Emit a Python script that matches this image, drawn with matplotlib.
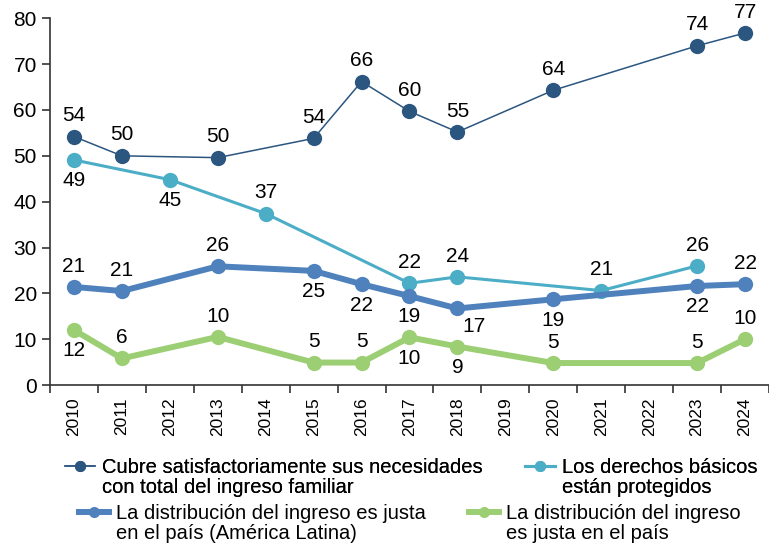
import numpy as np
import matplotlib
matplotlib.use("Agg")
import matplotlib.pyplot as plt
from matplotlib.lines import Line2D

plt.rcParams['font.family'] = ['Liberation Sans', 'DejaVu Sans']

years = ['2010', '2011', '2012', '2013', '2014', '2015', '2016', '2017',
         '2018', '2019', '2020', '2021', '2022', '2023', '2024']

# Cubre satisfactoriamente sus necesidades
needs_years = ['2010', '2011', '2013', '2015', '2016', '2017', '2018', '2020', '2023', '2024']
needs_vals = [54.2, 50.0, 49.6, 53.8, 66.2, 59.7, 55.2, 64.3, 74.0, 76.8]
needs_lbls = [54, 50, 50, 54, 66, 60, 55, 64, 74, 77]
needs_pos = ['a', 'a', 'a', 'a', 'a', 'a', 'a', 'a', 'a', 'a']

# Los derechos basicos estan protegidos
rights_years = ['2010', '2012', '2014', '2017', '2018', '2021', '2023']
rights_vals = [49.1, 44.8, 37.4, 22.2, 23.6, 20.6, 26.0]
rights_lbls = [49, 45, 37, 22, 24, 21, 26]
rights_pos = ['b', 'b', 'a', 'a', 'a', 'a', 'a']

# La distribucion del ingreso es justa (America Latina)
latam_years = ['2010', '2011', '2013', '2015', '2016', '2017', '2018', '2020', '2023', '2024']
latam_vals = [21.4, 20.5, 25.9, 24.9, 22.0, 19.4, 16.7, 18.7, 21.6, 22.0]
latam_lbls = [21, 21, 26, 25, 22, 19, 17, 19, 22, 22]
latam_pos = ['a', 'a', 'a', 'b', 'b', 'b', 'br', 'b', 'b', 'a']

# La distribucion del ingreso es justa en el pais
country_years = ['2010', '2011', '2013', '2015', '2016', '2017', '2018', '2020', '2023', '2024']
country_vals = [12.0, 5.8, 10.5, 4.9, 4.9, 10.4, 8.4, 4.8, 4.8, 10.0]
country_lbls = [12, 6, 10, 5, 5, 10, 9, 5, 5, 10]
country_pos = ['b', 'a', 'a', 'a', 'a', 'b', 'b', 'a', 'a', 'a']

series = [
    (needs_years, needs_vals, needs_lbls, needs_pos, '#2B5680', 1.1,
     'Cubre satisfactoriamente sus necesidades\ncon total del ingreso familiar'),
    (rights_years, rights_vals, rights_lbls, rights_pos, '#4BADC6', 2.2,
     'Los derechos básicos\nestán protegidos'),
    (latam_years, latam_vals, latam_lbls, latam_pos, '#4F81BD', 4.3,
     'La distribución del ingreso es justa\nen el país (América Latina)'),
    (country_years, country_vals, country_lbls, country_pos, '#9CCF74', 4.3,
     'La distribución del ingreso\nes justa en el país'),
]

fig = plt.figure(figsize=(7.69, 5.48), dpi=100)
ax = fig.add_axes([0.065, 0.2974, 0.935, 0.6692])

offsets = {'a': (0, 15), 'b': (0, -15), 'br': (12, -13)}
handles = []
for yrs, vals, lbls, pos, color, lw, name in series:
    xs = [years.index(y) for y in yrs]
    ax.plot(xs, vals, color=color, lw=lw, marker='o', markersize=11,
            markeredgewidth=0, solid_capstyle='round', zorder=3)
    for x, v, l, p in zip(xs, vals, lbls, pos):
        ax.annotate(str(l), (x, v), xytext=offsets[p], textcoords='offset points',
                    ha='center', va='center', fontsize=15, color='black', zorder=5)
    handles.append(Line2D([], [], color=color, lw=lw, marker='o', markersize=8,
                          markeredgewidth=0, solid_capstyle='projecting', label=name))

ax.set_xlim(-0.5, 14.39)
ax.set_ylim(0, 80)
ax.set_yticks(np.arange(0, 81, 10))
ax.set_xticks(range(len(years)))
ax.set_xticklabels(years, rotation=90)
ax.set_xticks(np.arange(-0.5, 14.6, 1), minor=True)
ax.tick_params(axis='x', which='major', length=0, labelsize=12.5, pad=9)
ax.tick_params(axis='x', which='minor', length=6, width=1.2, color='#333333')
ax.tick_params(axis='y', length=6, width=1.2, labelsize=15, color='#333333')
for s in ['top', 'right']:
    ax.spines[s].set_visible(False)
for s in ['left', 'bottom']:
    ax.spines[s].set_linewidth(1.2)
    ax.spines[s].set_color('#333333')

legend_kw = dict(loc='upper center', ncol=2, frameon=False, fontsize=14.5,
                 handlelength=1.5, handleheight=1.1, handletextpad=0.35,
                 columnspacing=2.1, borderaxespad=0, borderpad=0)
leg1 = fig.legend(handles=handles[:2], bbox_to_anchor=(0.535, 0.165), **legend_kw)
fig.add_artist(leg1)
leg2 = fig.legend(handles=handles[2:], bbox_to_anchor=(0.533, 0.081), **legend_kw)

# markers sit next to the first line of each label
for leg in (leg1, leg2):
    for t in leg.get_texts():
        t.set_linespacing(1.1)
    for col in leg._legend_handle_box.get_children():
        for row in col.get_children():
            row.align = 'top'

fig.savefig('out.png', dpi=100)
